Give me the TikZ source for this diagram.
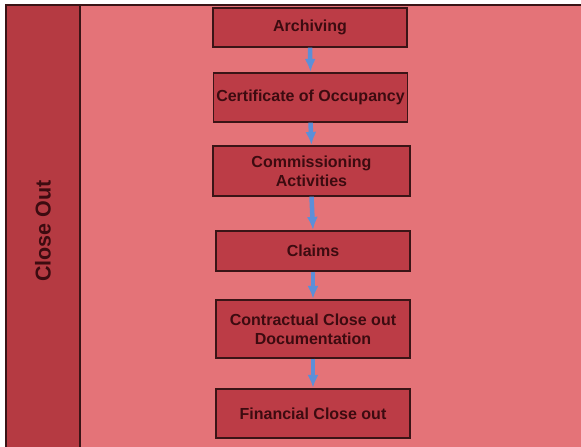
\documentclass[tikz,border=0pt]{standalone}
\usepackage{fontspec}
\setmainfont{Liberation Sans}
\usetikzlibrary{arrows.meta}
\definecolor{lanebg}{HTML}{E47378}
\definecolor{lanehead}{HTML}{B53A42}
\definecolor{stepfill}{HTML}{BC3C46}
\definecolor{stepline}{HTML}{3A1416}
\definecolor{steptext}{HTML}{3C0B10}
\definecolor{flowblue}{HTML}{5C8FD8}
\tikzset{
    stepbox/.style={draw=stepline, line width=1.2pt, fill=stepfill, text=steptext,
        font=\bfseries\fontsize{16}{19}\selectfont, align=center,
        inner sep=0pt, minimum width=194pt},
    flow/.style={draw=flowblue, line width=4.5pt,
        -{Latex[length=13pt,width=11pt,flowblue]}, shorten >=0.5pt}
}
\begin{document}
\begin{tikzpicture}[x=1pt, y=-1pt]
        \useasboundingbox (0,0) rectangle (581,447);
        \clip (0,0) rectangle (581,447);
        % swimlane
        \draw[stepline, line width=1.2pt, fill=lanebg] (6,5) rectangle (590,455);
        \draw[stepline, line width=1.2pt, fill=lanehead] (6,5) rectangle (80,455);
        \node[rotate=90, text=steptext, font=\bfseries\fontsize{21.5}{24}\selectfont] (lane) at (43,231) {Close Out};
        % steps
        \node[stepbox, minimum height=39pt] (archiving) at (310,27.5) {Archiving};
        \node[stepbox, minimum height=49pt] (certificate) at (310.5,97.5) {Certificate of Occupancy};
        \node[stepbox, minimum height=50pt, minimum width=197pt] (commissioning) at (311.5,171) {Commissioning\\Activities};
        \node[stepbox, minimum height=40pt] (claims) at (313,251) {Claims};
        \node[stepbox, minimum height=58pt] (contractual) at (313,329) {Contractual Close out\\Documentation};
        \node[stepbox, minimum height=49pt] (financial) at (313,413.5) {Financial Close out};
        % arrows
        \draw[flow] (archiving.south) -- (certificate.north);
        \draw[flow] (certificate.south) -- (commissioning.north);
        \draw[flow] (commissioning.south) -- (claims.north);
        \draw[flow] (claims.south) -- (contractual.north);
        \draw[flow] (contractual.south) -- (financial.north);
    \end{tikzpicture}
\end{document}
